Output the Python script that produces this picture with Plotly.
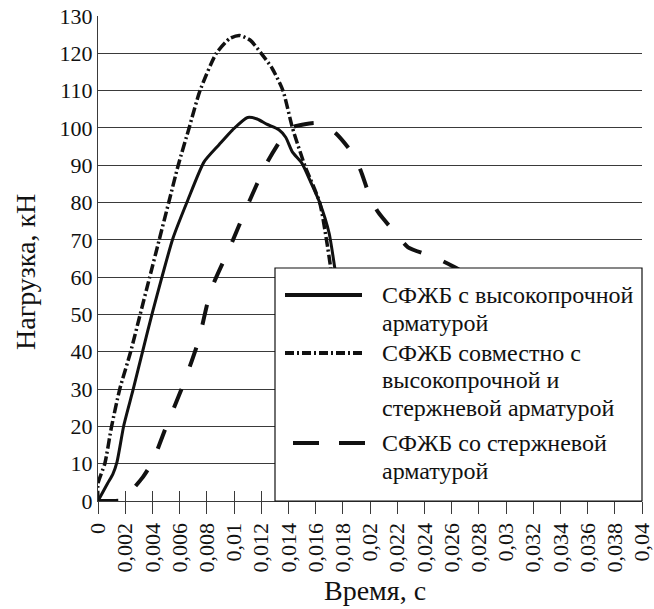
import plotly.graph_objects as go

# ---- data ----
solid_x = [0, 0.0007, 0.0011, 0.0014, 0.0019, 0.0026, 0.0033, 0.0040, 0.0047, 0.0055,
           0.0066, 0.0078, 0.0089, 0.0099, 0.0110, 0.0117, 0.0124, 0.0133, 0.0138,
           0.0143, 0.0150, 0.0157, 0.0163, 0.0170, 0.0174, 0.0178]
solid_y = [0, 4.7, 7.3, 10.5, 20.3, 30.1, 40.4, 50.5, 60, 70.3,
           80.6, 90.9, 95.5, 99.5, 102.8, 102.4, 101, 99.5, 97.5,
           93.5, 90.5, 85, 80, 71.7, 62.7, 53]

combo_x = [0, 0, 0.0005, 0.0010, 0.0016, 0.0024, 0.0031, 0.0038, 0.0045, 0.0052,
           0.0059, 0.0067, 0.0075, 0.0087, 0.0097, 0.0104, 0.0112, 0.0120, 0.0128,
           0.0136, 0.0143, 0.0152, 0.0163, 0.0168, 0.0171, 0.0174]
combo_y = [0, 4.7, 10, 20, 30, 40, 50, 60, 70, 80,
           90, 100, 110, 120, 124, 124.8, 123.5, 120, 116,
           110, 100, 90, 80, 70, 62.7, 53]

rod_x = [0, 0.0019, 0.0021, 0.0033, 0.0040, 0.0050, 0.0063, 0.0074, 0.0083, 0.0097,
         0.0110, 0.0124, 0.0136, 0.0144, 0.0152, 0.0160, 0.0167, 0.0175, 0.0187, 0.0193,
         0.0200, 0.0206, 0.0219, 0.0228, 0.0247, 0.0264, 0.0280]
rod_y = [0, 0.3, 1.2, 6.4, 10.5, 19.8, 31.5, 43.1, 56.5, 68,
         79.3, 90.5, 97.6, 100.3, 101, 101.3, 100.6, 98.5, 93.3, 88.7,
         81.5, 77.4, 71.7, 68, 65.4, 62.3, 58]

x_tick_vals = [0, 0.002, 0.004, 0.006, 0.008, 0.01, 0.012, 0.014, 0.016, 0.018, 0.02,
               0.022, 0.024, 0.026, 0.028, 0.03, 0.032, 0.034, 0.036, 0.038, 0.04]
x_tick_text = ["0", "0,002", "0,004", "0,006", "0,008", "0,01", "0,012", "0,014", "0,016",
               "0,018", "0,02", "0,022", "0,024", "0,026", "0,028", "0,03", "0,032",
               "0,034", "0,036", "0,038", "0,04"]
y_tick_vals = list(range(0, 131, 10))

series_names = ["СФЖБ с высокопрочной<br>арматурой",
                "СФЖБ совместно с<br>высокопрочной и<br>стержневой арматурой",
                "СФЖБ со стержневой<br>арматурой"]
x_title = "Время, с"
y_title = "Нагрузка, кН"

FONT = "Liberation Serif"
INK = "#111111"
GRID = "#3a3a3a"

W, H = 654, 609
ML, MR, MT, MB = 98, 12, 16, 108
PW, PH = W - ML - MR, H - MT - MB


def px(xp):
    return (xp - ML) / PW


def py(yp):
    return (H - MB - yp) / PH


styles = [dict(color=INK, width=3, dash="solid"),
          dict(color=INK, width=3.5, dash="10px,3px,2px,3px"),
          dict(color=INK, width=4, dash="20px,24px")]

fig = go.Figure()
for xs, ys, name, st in zip([solid_x, combo_x, rod_x], [solid_y, combo_y, rod_y],
                            series_names, styles):
    fig.add_trace(go.Scatter(x=xs, y=ys, mode="lines", name=name, line=st,
                             line_shape="spline", line_smoothing=0.6, showlegend=False))
# empty helper trace so that the overlaid tick axis (inner half of crossing ticks) is drawn
fig.add_trace(go.Scatter(x=[], y=[], xaxis="x2", yaxis="y", showlegend=False,
                         hoverinfo="skip"))

# legend box drawn manually to match the reference (long sample lines)
shapes = [dict(type="rect", xref="paper", yref="paper", x0=px(275), x1=1.0,
               y0=0, y1=py(268), fillcolor="white", line=dict(color=INK, width=1.2),
               layer="above")]
sample_rows = [(295, 285, 362), (353, 285, 362), (443, 293, 367)]
sample_dash = ["solid", "9px,3px,2px,3px", "26px,20px"]
for (yy, xa, xb), st, dsh in zip(sample_rows, styles, sample_dash):
    shapes.append(dict(type="line", xref="paper", yref="paper", x0=px(xa), x1=px(xb),
                       y0=py(yy), y1=py(yy),
                       line=dict(color=INK, width=4, dash=dsh), layer="above"))

annotations = []
text_rows = [[295, 323], [353, 380, 408], [443, 471]]
for name, rows in zip(series_names, text_rows):
    for line, yy in zip(name.split("<br>"), rows):
        annotations.append(dict(text=line, xref="paper", yref="paper", x=px(380), y=py(yy),
                                xanchor="left", yanchor="middle", showarrow=False,
                                font=dict(family=FONT, size=24, color=INK)))

annotations.append(dict(text=x_title, xref="paper", yref="paper", x=px(375), y=py(590),
                        xanchor="center", yanchor="middle", showarrow=False,
                        font=dict(family=FONT, size=28, color=INK)))
annotations.append(dict(text=y_title, xref="paper", yref="paper", x=px(25), y=py(272),
                        xanchor="center", yanchor="middle", showarrow=False, textangle=-90,
                        font=dict(family=FONT, size=28, color=INK)))

fig.update_layout(
    width=W, height=H,
    margin=dict(l=ML, r=MR, t=MT, b=MB, autoexpand=False),
    paper_bgcolor="white", plot_bgcolor="white",
    font=dict(family=FONT, size=22, color=INK),
    shapes=shapes, annotations=annotations,
    xaxis=dict(range=[0, 0.04], tickvals=x_tick_vals, ticktext=x_tick_text,
               tickangle=-90, ticks="outside", ticklen=12, tickcolor=GRID, tickwidth=1.2,
               showline=True, linecolor=GRID, linewidth=1.2, showgrid=False, zeroline=False,
               automargin=False, ticklabeloverflow="allow",
               tickfont=dict(family=FONT, size=22, color=INK)),
    xaxis2=dict(range=[0, 0.04], overlaying="x", anchor="y", side="bottom",
                tickvals=x_tick_vals, ticks="inside", ticklen=10, tickcolor=GRID,
                tickwidth=1.2, showticklabels=False, showgrid=False, zeroline=False,
                showline=False, automargin=False),
    yaxis=dict(range=[0, 130], tickvals=y_tick_vals, ticks="", showline=True,
               linecolor=GRID, linewidth=1.2, showgrid=True, gridcolor=GRID, gridwidth=1.2,
               zeroline=False, automargin=False,
               tickfont=dict(family=FONT, size=22, color=INK)),
    showlegend=False,
)

fig.write_html("out.html", config={"displayModeBar": False},
               post_script="document.body.style.margin='0';")
